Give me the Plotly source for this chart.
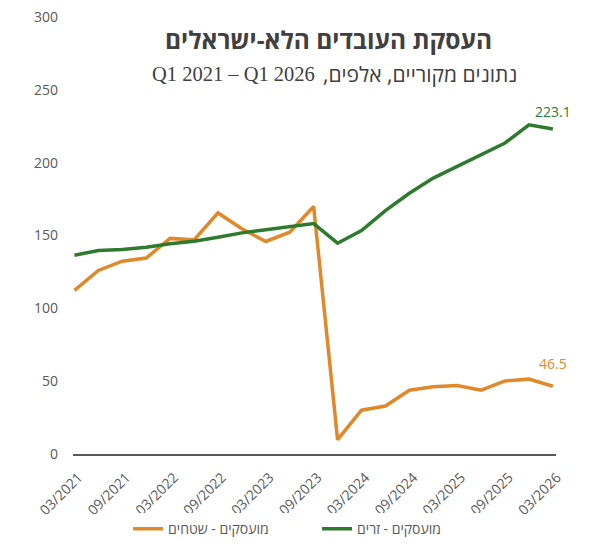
import plotly.graph_objects as go

quarters = []
for yr in range(2021, 2027):
    for m in ["03", "06", "09", "12"]:
        quarters.append(f"{m}/{yr}")
quarters = quarters[:21]

territories = [112.3, 126.0, 132.4, 134.5, 148.0, 147.0, 165.5, 154.6, 145.9, 152.3,
               169.9, 9.8, 30.1, 32.9, 43.8, 46.1, 47.0, 43.8, 50.2, 51.4, 46.5]
foreign = [136.5, 139.7, 140.4, 142.0, 144.3, 146.0, 148.8, 151.8, 154.0, 156.2,
           158.2, 144.7, 153.4, 167.1, 179.0, 189.4, 197.3, 205.5, 213.5, 226.0, 223.1]

tick_labels = ["03/2021", "09/2021", "03/2022", "09/2022", "03/2023", "09/2023",
               "03/2024", "09/2024", "03/2025", "09/2025", "03/2026"]

name_terr = "מועסקים - שטחים"
name_for = "מועסקים - זרים"
title_text = "העסקת העובדים הלא-ישראלים"
subtitle_heb = "נתונים מקוריים, אלפים,"
subtitle_period = "Q1 2021 – Q1 2026"

ORANGE = "#E0892B"
GREEN = "#2E7B2E"

xi = list(range(len(quarters)))
tick_idx = [quarters.index(t) for t in tick_labels]

fig = go.Figure()
fig.add_trace(go.Scatter(x=xi, y=territories, mode="lines", name=name_terr,
                         line=dict(color=ORANGE, width=3.5)))
fig.add_trace(go.Scatter(x=xi, y=foreign, mode="lines", name=name_for,
                         line=dict(color=GREEN, width=3.5)))

fig.add_annotation(x=xi[-1], y=foreign[-1], text=f"{foreign[-1]:.1f}", showarrow=False,
                   yshift=18, font=dict(color=GREEN, size=14, family="Open Sans, Arial"))
fig.add_annotation(x=xi[-1], y=territories[-1], text=f"{territories[-1]:.1f}", showarrow=False,
                   yshift=23, font=dict(color=ORANGE, size=14, family="Open Sans, Arial"))

fig.add_annotation(xref="paper", yref="paper", x=0.528, y=0.948, xanchor="center", yanchor="middle",
                   text=f"<b>{title_text}</b>", showarrow=False,
                   font=dict(size=24.5, color="#404040", family="Open Sans, Arial"))
# subtitle: Hebrew part (right) and period part (left)
fig.add_annotation(xref="paper", yref="paper", x=0.513, y=0.87, xanchor="left", yanchor="middle",
                   text=subtitle_heb + "\u200F", showarrow=False,
                   font=dict(size=21, color="#404040", family="Open Sans, Arial"))
fig.add_annotation(xref="paper", yref="paper", x=0.505, y=0.87, xanchor="right", yanchor="middle",
                   text=subtitle_period, showarrow=False,
                   font=dict(size=20.5, color="#404040", family="Liberation Serif, Times New Roman, serif"))

fig.update_layout(
    width=599, height=548,
    paper_bgcolor="white", plot_bgcolor="white",
    margin=dict(l=65, r=51, t=9, b=102),
    font=dict(family="Open Sans, Arial", color="#595959"),
    showlegend=True,
    legend=dict(orientation="h", xref="paper", yref="paper", x=0.114, y=-0.172,
                xanchor="left", yanchor="middle", font=dict(size=14, color="#595959"),
                entrywidth=144, entrywidthmode="pixels", traceorder="normal"),
    xaxis=dict(range=[-0.06, 20.13], tickmode="array", tickvals=tick_idx, ticktext=tick_labels,
               tickangle=-45, showgrid=False, zeroline=False, showline=True, automargin=False,
               ticklabelstandoff=8, ticklabelshift=4,
               linecolor="#595959", linewidth=1.5, ticks="", tickfont=dict(size=14, color="#595959")),
    yaxis=dict(range=[0, 300], tickvals=[0, 50, 100, 150, 200, 250, 300], showgrid=False,
               zeroline=False, showline=False, ticks="", automargin=False, ticklabelstandoff=14,
               ticklabeloverflow="allow", tickfont=dict(size=14, color="#595959")),
)

fig.write_html("out.html")
